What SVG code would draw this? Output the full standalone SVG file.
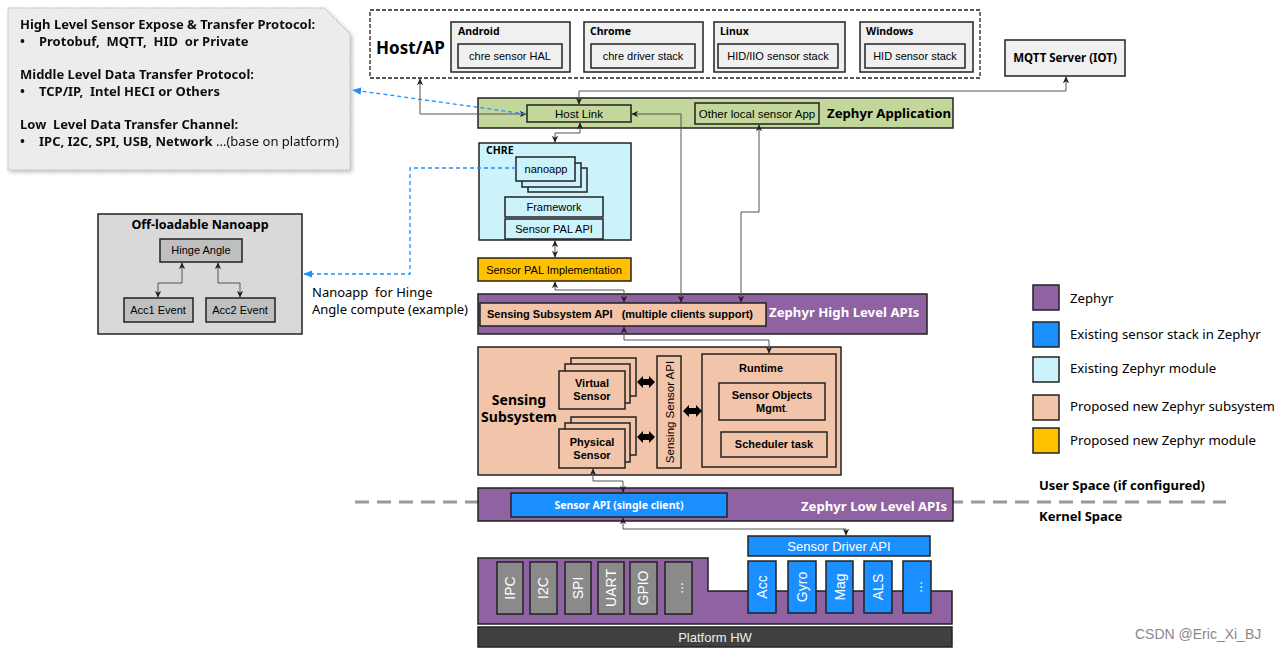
<svg xmlns="http://www.w3.org/2000/svg" width="1280" height="650" viewBox="0 0 1280 650">
<defs>
<style>
text{white-space:pre}
.ic{font-family:"Noto Sans","Open Sans","DejaVu Sans",sans-serif}
.ar{font-family:"Liberation Sans",Arial,sans-serif}
.b{font-weight:bold}
.box{stroke:#222;stroke-width:1.5}
.gray{fill:#f0f0f0}
.green{fill:#c3d69b}
.cyan{fill:#ccf2fb}
.peach{fill:#f2c4aa}
.yellow{fill:#ffc000}
.purple{fill:#8f62a1}
.blue{fill:#1a8fff}
.hw{fill:#8a8a8a}
.conn{fill:none;stroke:#555;stroke-width:1}
.dash{fill:none;stroke:#1e90ff;stroke-width:1.3;stroke-dasharray:4,3}
</style>
<marker id="ah" viewBox="0 0 10 10" refX="9" refY="5" markerWidth="7" markerHeight="7" orient="auto-start-reverse" markerUnits="userSpaceOnUse"><path d="M0,0.5 L10,5 L0,9.5 L3,5 z" fill="#222"/></marker>
<marker id="bh" viewBox="0 0 10 10" refX="9" refY="5" markerWidth="9" markerHeight="9" orient="auto-start-reverse" markerUnits="userSpaceOnUse"><path d="M0,1 L10,5 L0,9 z" fill="#1e90ff"/></marker>
<filter id="sh" x="-5%" y="-5%" width="115%" height="115%"><feGaussianBlur in="SourceAlpha" stdDeviation="2"/><feOffset dx="2" dy="2"/><feComponentTransfer><feFuncA type="linear" slope="0.25"/></feComponentTransfer><feMerge><feMergeNode/><feMergeNode in="SourceGraphic"/></feMerge></filter>
</defs>
<rect width="1280" height="650" fill="#fff"/>

<!-- user/kernel dashed divider -->
<line x1="355" y1="502" x2="1226" y2="502" stroke="#999" stroke-width="3" stroke-dasharray="14,8"/>
<text class="ic b" x="1039" y="490" font-size="13">User Space (if configured)</text>
<text class="ic b" x="1039" y="521" font-size="13">Kernel Space</text>

<!-- note -->
<g id="note" filter="url(#sh)">
<path d="M8,8 H324 L350,34 V170 H8 Z" fill="#ececec" stroke="#aaa" stroke-width="1" stroke-dasharray="1.5,1.5"/>
<g class="ic b" font-size="13" fill="#111">
<text x="20" y="29">High Level Sensor Expose &amp; Transfer Protocol:</text>
<text x="20" y="46">•</text><text x="39" y="46">Protobuf,  MQTT,  HID  or Private</text>
<text x="20" y="79">Middle Level Data Transfer Protocol:</text>
<text x="20" y="96">•</text><text x="39" y="96">TCP/IP,  Intel HECI or Others</text>
<text x="20" y="129">Low  Level Data Transfer Channel:</text>
<text x="20" y="146">•</text><text x="39" y="146">IPC, I2C, SPI, USB, Network <tspan font-weight="normal">...(base on platform)</tspan></text>
</g>
</g>

<!-- Host/AP -->
<g id="hostap">
<rect x="370" y="10" width="610" height="68" fill="#fff" stroke="#222" stroke-width="1.3" stroke-dasharray="4,2"/>
<text class="ic b" x="376" y="54" font-size="17">Host/AP</text>
</g>
<g id="android">
<rect class="box gray" x="451" y="22" width="119" height="50"/>
<text class="ic b" x="458" y="35" font-size="10.5">Android</text>
<rect class="box gray" x="458" y="44" width="104" height="24"/>
<text class="ar" x="510" y="60" font-size="11" text-anchor="middle">chre sensor HAL</text>
</g>
<g id="chrome">
<rect class="box gray" x="584" y="22" width="119" height="50"/>
<text class="ic b" x="590" y="35" font-size="10.5">Chrome</text>
<rect class="box gray" x="591" y="44" width="104" height="24"/>
<text class="ar" x="643" y="60" font-size="11" text-anchor="middle">chre driver stack</text>
</g>
<g id="linux">
<rect class="box gray" x="714" y="22" width="131" height="50"/>
<text class="ic b" x="720" y="35" font-size="10.5">Linux</text>
<rect class="box gray" x="718" y="44" width="120" height="24"/>
<text class="ar" x="778" y="60" font-size="11" text-anchor="middle">HID/IIO sensor stack</text>
</g>
<g id="windows">
<rect class="box gray" x="860" y="22" width="113" height="50"/>
<text class="ic b" x="866" y="35" font-size="10.5">Windows</text>
<rect class="box gray" x="865" y="44" width="100" height="24"/>
<text class="ar" x="915" y="60" font-size="11" text-anchor="middle">HID sensor stack</text>
</g>
<g id="mqtt">
<rect class="box gray" x="1005" y="40" width="120" height="36"/>
<text class="ic b" x="1065" y="62" font-size="11.5" text-anchor="middle">MQTT Server (IOT)</text>
</g>

<!-- Zephyr application -->
<g id="zephyr-app">
<rect class="box green" x="478" y="98" width="475" height="30"/>
<text class="ic b" x="827" y="118" font-size="13.2">Zephyr Application</text>
</g>
<g id="hostlink">
<rect class="box green" x="527" y="105" width="104" height="17"/>
<text class="ar" x="579" y="118" font-size="11.5" text-anchor="middle">Host Link</text>
</g>
<g id="localapp">
<rect class="box green" x="695" y="103" width="124" height="21"/>
<text class="ar" x="757" y="118" font-size="11.5" text-anchor="middle">Other local sensor App</text>
</g>

<!-- CHRE -->
<g id="chre">
<rect class="box cyan" x="479" y="143" width="152" height="97"/>
<text class="ic b" x="486" y="154" font-size="10.5">CHRE</text>
</g>
<g id="nanoapp">
<rect class="box cyan" x="528" y="168" width="59" height="24" stroke-width="1.2"/>
<rect class="box cyan" x="522" y="163" width="59" height="24" stroke-width="1.2"/>
<rect class="box cyan" x="516" y="157" width="59" height="24" stroke-width="1.2"/>
<text class="ar" x="546" y="173" font-size="11" text-anchor="middle">nanoapp</text>
</g>
<g id="framework">
<rect class="box cyan" x="505" y="197" width="98" height="20" stroke-width="1.2"/>
<text class="ar" x="554" y="211" font-size="11" text-anchor="middle">Framework</text>
</g>
<g id="palapi">
<rect class="box cyan" x="505" y="219" width="98" height="20" stroke-width="1.2"/>
<text class="ar" x="554" y="233" font-size="11" text-anchor="middle">Sensor PAL API</text>
</g>
<g id="palimpl">
<rect class="box yellow" x="478" y="258" width="153" height="23"/>
<text class="ar" x="554" y="274" font-size="11" text-anchor="middle">Sensor PAL Implementation</text>
</g>

<!-- Off-loadable nanoapp -->
<g id="offload">
<rect class="box" x="98" y="214" width="204" height="120" fill="#d9d9d9"/>
<text class="ic b" x="200" y="229" font-size="12.5" text-anchor="middle">Off-loadable Nanoapp</text>
</g>
<g id="hinge">
<rect class="box" x="160" y="239" width="82" height="23" fill="#bfbfbf"/>
<text class="ar" x="201" y="254" font-size="11" text-anchor="middle">Hinge Angle</text>
</g>
<g id="acc1">
<rect class="box" x="124" y="298" width="69" height="24" fill="#bfbfbf"/>
<text class="ar" x="158" y="314" font-size="11" text-anchor="middle">Acc1 Event</text>
</g>
<g id="acc2">
<rect class="box" x="206" y="298" width="69" height="24" fill="#bfbfbf"/>
<text class="ar" x="240" y="314" font-size="11" text-anchor="middle">Acc2 Event</text>
</g>
<g id="nanoapp-note">
<text class="ic" x="312" y="297" font-size="13">Nanoapp  for Hinge</text>
<text class="ic" x="312" y="314" font-size="13">Angle compute (example)</text>
</g>

<!-- High level APIs -->
<g id="high-apis">
<rect class="box purple" x="478" y="294" width="449" height="40"/>
<text class="ic b" x="769" y="317" font-size="13.2" fill="#fff">Zephyr High Level APIs</text>
</g>
<g id="sensing-api">
<rect class="box peach" x="480" y="303" width="286" height="23"/>
<text class="ar b" x="620" y="318" font-size="11" text-anchor="middle">Sensing Subsystem API   (multiple clients support)</text>
</g>

<!-- Sensing subsystem -->
<g id="sensing">
<rect class="box peach" x="478" y="347" width="363" height="128"/>
<text class="ic b" x="519" y="405" font-size="14" text-anchor="middle">Sensing</text>
<text class="ic b" x="519" y="422" font-size="14" text-anchor="middle">Subsystem</text>
</g>
<g id="virtual">
<rect class="box peach" x="571" y="358" width="65" height="38" stroke-width="1.2"/>
<rect class="box peach" x="565" y="364" width="65" height="39" stroke-width="1.2"/>
<rect class="box peach" x="559" y="371" width="66" height="38" stroke-width="1.2"/>
<text class="ar b" x="592" y="387" font-size="11" text-anchor="middle">Virtual</text>
<text class="ar b" x="592" y="400" font-size="11" text-anchor="middle">Sensor</text>
</g>
<g id="physical">
<rect class="box peach" x="571" y="417" width="65" height="38" stroke-width="1.2"/>
<rect class="box peach" x="565" y="423" width="65" height="39" stroke-width="1.2"/>
<rect class="box peach" x="559" y="429" width="66" height="39" stroke-width="1.2"/>
<text class="ar b" x="592" y="446" font-size="11" text-anchor="middle">Physical</text>
<text class="ar b" x="592" y="459" font-size="11" text-anchor="middle">Sensor</text>
</g>
<g id="sensing-sensor-api">
<rect class="box peach" x="657" y="356" width="24" height="112" stroke-width="1.2"/>
<text class="ar" transform="translate(674,412) rotate(-90)" font-size="11.5" text-anchor="middle">Sensing Sensor API</text>
</g>
<g id="runtime">
<rect class="box peach" x="702" y="354" width="134" height="113" stroke-width="1.2"/>
<text class="ar b" x="761" y="372" font-size="11" text-anchor="middle">Runtime</text>
</g>
<g id="objmgmt">
<rect class="box peach" x="719" y="383" width="106" height="37" stroke-width="1.2"/>
<text class="ar b" x="772" y="399" font-size="11" text-anchor="middle">Sensor Objects</text>
<text class="ar b" x="772" y="412" font-size="11" text-anchor="middle">Mgmt<tspan font-weight="normal" font-size="9">.</tspan></text>
</g>
<g id="scheduler">
<rect class="box peach" x="721" y="432" width="106" height="25" stroke-width="1.2"/>
<text class="ar b" x="774" y="448" font-size="11" text-anchor="middle">Scheduler task</text>
</g>

<!-- Low level APIs -->
<g id="low-apis">
<rect class="box purple" x="478" y="488" width="475" height="33"/>
<text class="ic b" x="874" y="511" font-size="13.2" fill="#fff" text-anchor="middle">Zephyr Low Level APIs</text>
</g>
<g id="sensor-api">
<rect class="box blue" x="511" y="493" width="216" height="24"/>
<text class="ic b" x="619" y="509" font-size="10.5" fill="#fff" text-anchor="middle">Sensor API (single client)</text>
</g>

<!-- Platform -->
<g id="platform">
<path d="M478,558 H708 V591 H952 V624 H478 Z" class="purple" stroke="#222" stroke-width="1.5"/>
</g>
<g id="bus" class="ar" font-size="14" fill="#fff">
<rect class="box hw" x="497" y="562" width="26" height="52"/>
<text transform="translate(515,588) rotate(-90)" text-anchor="middle">IPC</text>
<rect class="box hw" x="530" y="562" width="27" height="52"/>
<text transform="translate(548,588) rotate(-90)" text-anchor="middle">I2C</text>
<rect class="box hw" x="565" y="562" width="26" height="52"/>
<text transform="translate(583,588) rotate(-90)" text-anchor="middle">SPI</text>
<rect class="box hw" x="598" y="562" width="26" height="52"/>
<text transform="translate(616,588) rotate(-90)" text-anchor="middle">UART</text>
<rect class="box hw" x="630" y="562" width="27" height="52"/>
<text transform="translate(648,588) rotate(-90)" text-anchor="middle">GPIO</text>
<rect class="box hw" x="665" y="562" width="27" height="52"/>
<text transform="translate(683,588) rotate(-90)" text-anchor="middle">...</text>
</g>
<g id="driver-api">
<rect class="box blue" x="748" y="536" width="182" height="20"/>
<text class="ar" x="839" y="551" font-size="13" fill="#fff" text-anchor="middle">Sensor Driver API</text>
</g>
<g id="drivers" class="ar" font-size="14" fill="#fff">
<rect class="box blue" x="748" y="561" width="28" height="52"/>
<text transform="translate(767,587) rotate(-90)" text-anchor="middle">Acc</text>
<rect class="box blue" x="788" y="561" width="28" height="52"/>
<text transform="translate(807,587) rotate(-90)" text-anchor="middle">Gyro</text>
<rect class="box blue" x="826" y="561" width="27" height="52"/>
<text transform="translate(845,587) rotate(-90)" text-anchor="middle">Mag</text>
<rect class="box blue" x="864" y="561" width="28" height="52"/>
<text transform="translate(883,587) rotate(-90)" text-anchor="middle">ALS</text>
<rect class="box blue" x="903" y="561" width="28" height="52"/>
<text transform="translate(922,587) rotate(-90)" text-anchor="middle">...</text>
</g>
<g id="platform-hw">
<rect x="478" y="627" width="474" height="20" fill="#404040" stroke="#222" stroke-width="1.5"/>
<text class="ar" x="715" y="642" font-size="13" fill="#eee" text-anchor="middle">Platform HW</text>
</g>

<!-- Legend -->
<g id="legend" class="ic" font-size="13.2">
<rect x="1033" y="285" width="26" height="25" class="purple" stroke="#222" stroke-width="1.5"/>
<text x="1070" y="303">Zephyr</text>
<rect x="1033" y="322" width="26" height="25" class="blue" stroke="#222" stroke-width="1.5"/>
<text x="1070" y="339">Existing sensor stack in Zephyr</text>
<rect x="1033" y="357" width="26" height="25" class="cyan" stroke="#222" stroke-width="1.5"/>
<text x="1070" y="373">Existing Zephyr module</text>
<rect x="1033" y="395" width="26" height="25" class="peach" stroke="#222" stroke-width="1.5"/>
<text x="1070" y="411">Proposed new Zephyr subsystem</text>
<rect x="1033" y="428" width="26" height="25" class="yellow" stroke="#222" stroke-width="1.5"/>
<text x="1070" y="445">Proposed new Zephyr module</text>
</g>

<text class="ar" x="1135" y="639" font-size="14" fill="#888">CSDN @Eric_Xi_BJ</text>

<!-- Connectors -->
<g id="connectors">
<path class="conn" d="M420,79 V114 H526" marker-start="url(#ah)" marker-end="url(#ah)"/>
<path class="conn" d="M579,104 V91 H1066 V77" marker-start="url(#ah)" marker-end="url(#ah)"/>
<path class="conn" d="M632,114 H681 V302" marker-start="url(#ah)" marker-end="url(#ah)"/>
<path class="conn" d="M759,125 V212 H741 V302" marker-start="url(#ah)" marker-end="url(#ah)"/>
<path class="conn" d="M580,123 V133 H555 V142" marker-start="url(#ah)" marker-end="url(#ah)"/>
<path class="conn" d="M555,241 V257" marker-start="url(#ah)" marker-end="url(#ah)"/>
<path class="conn" d="M555,282 V290 H624 V302" marker-start="url(#ah)" marker-end="url(#ah)"/>
<path class="conn" d="M624,327 V340 H769 V353" marker-start="url(#ah)" marker-end="url(#ah)"/>
<path class="conn" d="M593,469 V481 H623 V492" marker-start="url(#ah)" marker-end="url(#ah)"/>
<path class="conn" d="M623,518 V529 H846 V535" marker-start="url(#ah)" marker-end="url(#ah)"/>
<path class="conn" d="M182,263 V283 H158 V297" marker-start="url(#ah)" marker-end="url(#ah)"/>
<path class="conn" d="M218,263 V283 H240 V297" marker-start="url(#ah)" marker-end="url(#ah)"/>
<path class="dash" d="M526,114 L353,90" marker-end="url(#bh)"/>
<path class="dash" d="M516,168 H410 V274 H304" marker-end="url(#bh)"/>
<g fill="#000">
<polygon points="637,382 643,376 643,379 649,379 649,376 655,382 649,388 649,385 643,385 643,388"/>
<polygon points="637,437 643,431 643,434 649,434 649,431 655,437 649,443 649,440 643,440 643,443"/>
<polygon points="683,411 689,405 689,408 696,408 696,405 702,411 696,417 696,414 689,414 689,417"/>
</g>
</g>
</svg>
